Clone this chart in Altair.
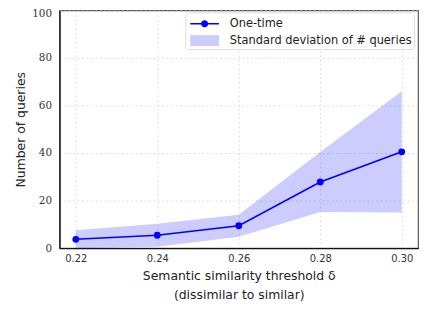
import altair as alt
import pandas as pd

thresholds = [0.22, 0.24, 0.26, 0.28, 0.30]
mean_queries = [3.7, 5.4, 9.4, 27.8, 40.5]
std_queries = [3.8, 4.8, 4.6, 12.6, 25.5]
x_ticks = [0.22, 0.24, 0.26, 0.28, 0.30]
y_ticks = [0, 20, 40, 60, 80, 100]
legend_names = ["One-time", "Standard deviation of # queries"]

df = pd.DataFrame({
    "delta": thresholds,
    "mean": mean_queries,
    "lo": [m - s for m, s in zip(mean_queries, std_queries)],
    "hi": [m + s for m, s in zip(mean_queries, std_queries)],
})
leg_df = pd.DataFrame({"series": legend_names})

line_path = ("M-0.684,-0.084 H0.49 V0.084 H-0.684 Z "
             "M1.194,-0.084 H2.368 V0.084 H1.194 Z "
             "M0.462,0 A0.38,0.38 0 1,1 1.222,0 A0.38,0.38 0 1,1 0.462,0 Z")
patch_path = "M-0.684,-0.58 H2.368 V0.58 H-0.684 Z"

xs = alt.Scale(domain=[0.216, 0.304], nice=False, zero=False)
ys = alt.Scale(domain=[0, 100], nice=False)

y_axis = alt.Axis(values=y_ticks, title="Number of queries",
                  labelOffset={"condition": {"test": "datum.value == 100", "value": 3}, "value": 0})
x_enc = alt.X("delta:Q", scale=xs, axis=alt.Axis(
    values=x_ticks, format=".2f",
    title=["Semantic similarity threshold δ", "(dissimilar to similar)"]))
y_enc = alt.Y("mean:Q", scale=ys, axis=y_axis)

band = alt.Chart(df).mark_area(color="blue", opacity=0.2).encode(
    x=x_enc, y=alt.Y("lo:Q", scale=ys, axis=y_axis), y2="hi:Q")

line = alt.Chart(df).mark_line(color="blue", strokeWidth=1.6).encode(x=x_enc, y=y_enc)
pts = alt.Chart(df).mark_circle(color="blue", size=48, opacity=1).encode(x=x_enc, y=y_enc)

legend_layer = alt.Chart(leg_df).mark_point(filled=True, opacity=0).encode(
    color=alt.Color("series:N", scale=alt.Scale(domain=legend_names, range=["#0000ff", "#ccccff"]),
                    legend=alt.Legend(title=None, orient="none", legendX=127, legendY=2,
                                      symbolOpacity=1, symbolSize=361, symbolStrokeWidth=0,
                                      labelOffset=24, padding=2, rowPadding=2, labelLimit=400,
                                      labelFont="DejaVu Sans", labelFontSize=11.5, labelColor="#222",
                                      fillColor="white", strokeColor="#dddddd", cornerRadius=3)),
    shape=alt.Shape("series:N", scale=alt.Scale(domain=legend_names, range=[line_path, patch_path]),
                    legend=None),
)

chart = alt.layer(band, line, pts, legend_layer).properties(
    width=362, height=240,
    autosize=alt.AutoSizeParams(type="none"),
    padding={"left": 52, "top": 1, "right": 4, "bottom": 55},
).configure_view(stroke="#555555", strokeWidth=1.2).configure_axis(
    grid=True, gridColor="#cccccc", gridDash=[1.5, 3], gridWidth=0.8,
    ticks=False, domainColor="#111111", domainWidth=1.3,
    labelColor="#333333", titleColor="#222222", titleFont="DejaVu Sans",
    titleFontWeight="normal", titleFontSize=12.5,
).configure_axisX(
    labelFont="DejaVu Sans", labelFontSize=10, labelPadding=6, titlePadding=6,
    titleLineHeight=19,
).configure_axisY(
    labelFont="DejaVu Serif", labelFontSize=10.5, labelPadding=8, titlePadding=4,
)

chart.save("out.html", embed_options={"renderer": "svg", "actions": False})
